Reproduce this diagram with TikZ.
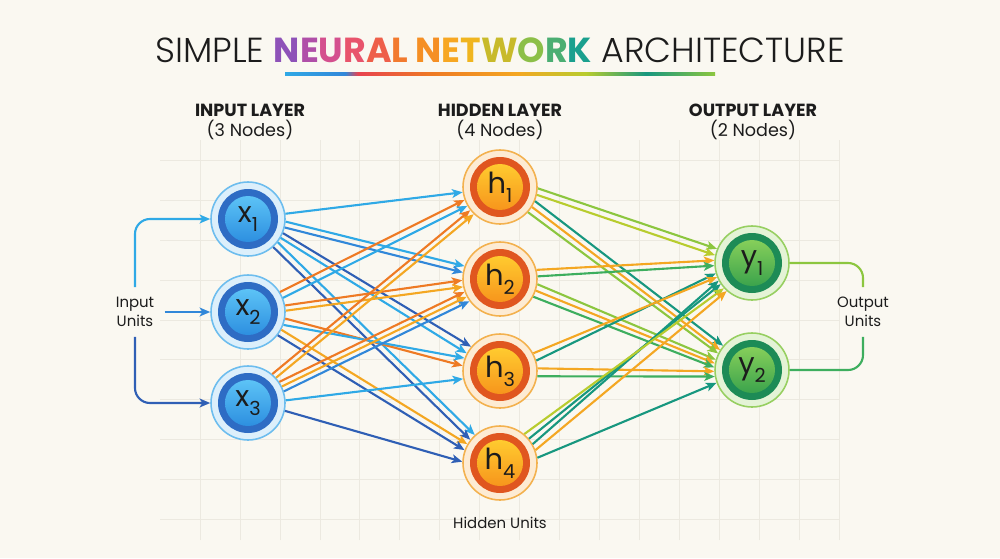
\documentclass[tikz,border=0pt]{standalone}
\usepackage{fontspec}
\setmainfont{Poppins}
\newfontfamily\lightfont{Poppins Light}
\usetikzlibrary{arrows.meta}

\definecolor{paper}{HTML}{FAF8F1}
\definecolor{gridc}{HTML}{ECE9E0}
\definecolor{ink}{HTML}{1C1C1C}
\definecolor{inLight}{HTML}{2FA9E6}
\definecolor{inMid}{HTML}{3187D9}
\definecolor{inDark}{HTML}{2F5FB5}
\definecolor{hOrange}{HTML}{EE7A24}
\definecolor{hAmber}{HTML}{F4A722}
\definecolor{oLime}{HTML}{8CC63F}
\definecolor{oYellow}{HTML}{B8CC2E}
\definecolor{oGreen}{HTML}{3DAE5E}
\definecolor{oTeal}{HTML}{17977F}
\definecolor{xPale}{HTML}{DCEFFB}
\definecolor{xRing}{HTML}{6DBDEE}
\definecolor{xCore}{HTML}{2E6CC4}
\definecolor{xHi}{HTML}{5CC3F6}
\definecolor{xLo}{HTML}{2D8FE0}
\definecolor{hPale}{HTML}{FDEBD3}
\definecolor{hRing}{HTML}{F3B14E}
\definecolor{hCore}{HTML}{E0561F}
\definecolor{hHi}{HTML}{FFCB2F}
\definecolor{hLo}{HTML}{F7951C}
\definecolor{yPale}{HTML}{E4F3D6}
\definecolor{yRing}{HTML}{97CF61}
\definecolor{yCore}{HTML}{1D8B56}
\definecolor{yHi}{HTML}{86CF5A}
\definecolor{yLo}{HTML}{3BA34C}
\definecolor{tA}{HTML}{8E52B8}
\definecolor{tB}{HTML}{B04FA8}
\definecolor{tC}{HTML}{D4508E}
\definecolor{tD}{HTML}{E8546C}
\definecolor{tE}{HTML}{EE5F4A}
\definecolor{tF}{HTML}{F27A2E}
\definecolor{tG}{HTML}{F58F24}
\definecolor{tH}{HTML}{F7A722}
\definecolor{tI}{HTML}{F0B51F}
\definecolor{tJ}{HTML}{C8BA2A}
\definecolor{tK}{HTML}{8CBF48}
\definecolor{tL}{HTML}{4BAE72}
\definecolor{tM}{HTML}{1AA08E}
\definecolor{lineRed}{HTML}{E8434F}

\pgfdeclarehorizontalshading{rainbow}{100bp}{color(0bp)=(inLight); color(25bp)=(inLight); color(32bp)=(inMid); color(33.5bp)=(lineRed); color(42bp)=(hOrange); color(52bp)=(hAmber); color(60bp)=(oYellow); color(67bp)=(oTeal); color(75bp)=(oLime); color(100bp)=(oLime)}

\newcommand{\unitlbl}[2]{#1\raisebox{-0.55ex}{\fontsize{11}{11}\selectfont#2}}

\begin{document}
\begin{tikzpicture}[x=0.02cm, y=-0.02cm,
  every node/.style={text=ink},
  gridline/.style={draw=gridc, line width=0.5pt},
  heading/.style={align=center, font=\fontsize{10}{11.5}\selectfont},
  tag/.style={align=center, font=\fontsize{8.5}{10.5}\selectfont, inner sep=0.2cm},
  unitbase/.style={circle, minimum size=1.48cm, inner sep=0pt, line width=0.9pt, font=\fontsize{16.5}{16.5}\selectfont},
  xunit/.style={unitbase, fill=xPale, draw=xRing,
    path picture={\fill[xCore] (path picture bounding box.center) circle (0.6cm);
      \shade[top color=xHi, bottom color=xLo] (path picture bounding box.center) circle (0.46cm);}},
  hunit/.style={unitbase, fill=hPale, draw=hRing,
    path picture={\fill[hCore] (path picture bounding box.center) circle (0.6cm);
      \shade[top color=hHi, bottom color=hLo] (path picture bounding box.center) circle (0.46cm);}},
  yunit/.style={unitbase, fill=yPale, draw=yRing,
    path picture={\fill[yCore] (path picture bounding box.center) circle (0.6cm);
      \shade[top color=yHi, bottom color=yLo] (path picture bounding box.center) circle (0.46cm);}},
  edge/.style={line width=1.2pt, -{Stealth[length=6pt, width=5pt, inset=1.5pt]}},
  bracket/.style={line width=1.2pt, rounded corners=0.3cm}]

\fill[paper] (0,0) rectangle (1000,558);
\useasboundingbox (0,0) rectangle (1000,558);
\draw[gridline, xstep=0.8cm, ystep=0.8cm] (160,140) grid (840,540);

\node (title) at (500,50) {\fontsize{19.8}{22}\selectfont\lightfont SIMPLE
  {\normalfont\bfseries\color{tA}N\color{tB}E\color{tC}U\color{tD}R\color{tE}A\color{tF}L
  \color{tG}N\color{tH}E\color{tI}T\color{tJ}W\color{tK}O\color{tL}R\color{tM}K} ARCHITECTURE};
\shade[shading=rainbow] (285,72.5) rectangle (715,75.5);

\node[heading] (inhead) at (250,122) {\textbf{INPUT LAYER}\\(3 Nodes)};
\node[heading] (hidhead) at (500,122) {\textbf{HIDDEN LAYER}\\(4 Nodes)};
\node[heading] (outhead) at (753,122) {\textbf{OUTPUT LAYER}\\(2 Nodes)};

\node[xunit] at (248,219)(x1) {\unitlbl{x}{1}};
\node[xunit] at (248,312)(x2) {\unitlbl{x}{2}};
\node[xunit] at (248,403)(x3) {\unitlbl{x}{3}};

\node[hunit] at (500,187)(h1) {\unitlbl{h}{1}};
\node[hunit] at (500,279)(h2) {\unitlbl{h}{2}};
\node[hunit] at (500,371)(h3) {\unitlbl{h}{3}};
\node[hunit] at (500,463)(h4) {\unitlbl{h}{4}};

\node[yunit] at (752,263)(y1) {\unitlbl{y}{1}};
\node[yunit] at (752,370)(y2) {\unitlbl{y}{2}};

\node[tag] (inlbl) at (135,312) {Input\\Units};
\node[tag] (outlbl) at (863,312) {Output\\Units};
\node[tag] (hidlbl) at (500,523) {Hidden Units};

\draw[bracket, inLight, -{Stealth[length=6pt, width=5pt, inset=1.5pt]}] (inlbl.north) |- (x1.west);
\draw[bracket, inMid, -{Stealth[length=6pt, width=5pt, inset=1.5pt]}] (inlbl.east) -- (x2.west);
\draw[bracket, inDark, -{Stealth[length=6pt, width=5pt, inset=1.5pt]}] (inlbl.south) |- (x3.west);

\draw[bracket, oLime] (y1.east) -| (outlbl.north);
\draw[bracket, oGreen] (y2.east) -| (outlbl.south);

\draw[edge, inLight] (x1.8) -- (h1.188);
\draw[edge, inLight] (x1.-4) -- (h2.160);
\draw[edge, inMid] (x1.-13) -- (h2.170);
\draw[edge, inDark] (x1.-22) -- (h3.140);
\draw[edge, inLight] (x1.-30) -- (h3.152);
\draw[edge, inLight] (x1.-38) -- (h4.132);
\draw[edge, inDark] (x1.-48) -- (h4.142);

\draw[edge, hOrange] (x2.32) -- (h1.200);
\draw[edge, inLight] (x2.22) -- (h1.210);
\draw[edge, hOrange] (x2.10) -- (h2.182);
\draw[edge, hAmber] (x2.2) -- (h2.192);
\draw[edge, hOrange] (x2.-10) -- (h3.172);
\draw[edge, inLight] (x2.-20) -- (h3.160);
\draw[edge, hAmber] (x2.-28) -- (h4.150);
\draw[edge, inDark] (x2.-38) -- (h4.160);

\draw[edge, hOrange] (x3.50) -- (h1.218);
\draw[edge, hAmber] (x3.42) -- (h1.226);
\draw[edge, hOrange] (x3.34) -- (h2.200);
\draw[edge, hAmber] (x3.26) -- (h2.208);
\draw[edge, inMid] (x3.18) -- (h2.216);
\draw[edge, inLight] (x3.4) -- (h3.192);
\draw[edge, inDark] (x3.-12) -- (h4.178);

\draw[edge, oLime] (h1.-2) -- (y1.158);
\draw[edge, oYellow] (h1.-12) -- (y1.168);
\draw[edge, oTeal] (h1.-22) -- (y2.140);
\draw[edge, hAmber] (h1.-32) -- (y2.148);
\draw[edge, oLime] (h1.-42) -- (y2.154);

\draw[edge, hAmber] (h2.14) -- (y1.176);
\draw[edge, oGreen] (h2.4) -- (y1.184);
\draw[edge, oLime] (h2.-8) -- (y2.164);
\draw[edge, hAmber] (h2.-18) -- (y2.170);
\draw[edge, oGreen] (h2.-28) -- (y2.176);

\draw[edge, oTeal] (h3.16) -- (y1.196);
\draw[edge, hAmber] (h3.28) -- (y1.202);
\draw[edge, hAmber] (h3.4) -- (y2.182);
\draw[edge, oGreen] (h3.-8) -- (y2.190);

\draw[edge, oTeal] (h4.30) -- (y1.208);
\draw[edge, oTeal] (h4.40) -- (y1.214);
\draw[edge, oYellow] (h4.50) -- (y1.222);
\draw[edge, hAmber] (h4.20) -- (y1.228);
\draw[edge, oTeal] (h4.8) -- (y2.200);

\end{tikzpicture}
\end{document}
